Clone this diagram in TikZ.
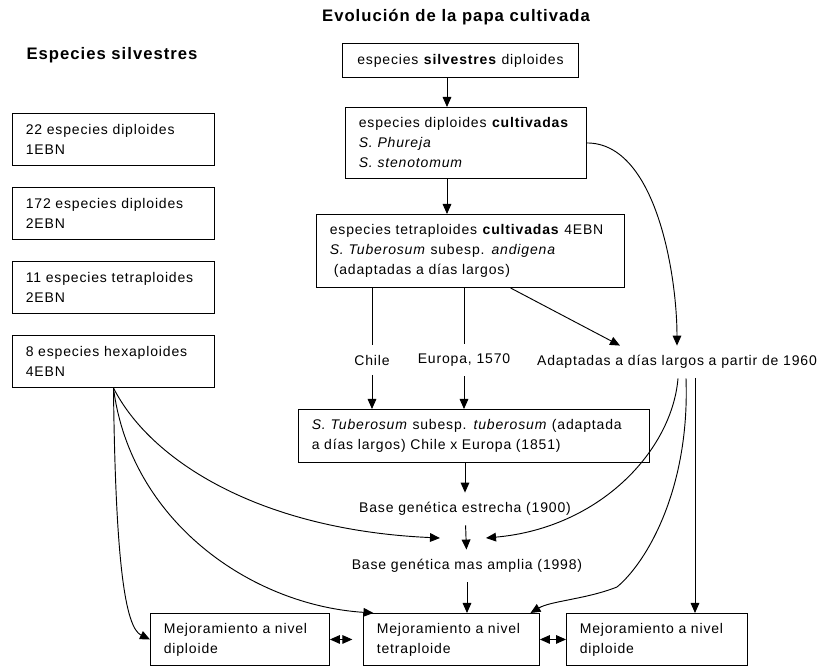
\documentclass[tikz,border=0pt]{standalone}
\usepackage{fontspec}
\setmainfont{Liberation Sans}[LetterSpace=6]
\usetikzlibrary{arrows.meta}
\tikzset{
  box/.style={draw, anchor=north west, align=left, inner xsep=10pt, inner ysep=2pt},
  lbl/.style={inner xsep=2pt, inner ysep=7pt},
  head/.style={font=\fontsize{12.5pt}{14pt}\selectfont\bfseries}
}
\begin{document}
\begin{tikzpicture}[x=0.75pt,y=-0.75pt,line width=0.7pt,
    >={Triangle[length=7.5pt,width=6.5pt]},
    font=\fontsize{10.5pt}{15pt}\selectfont]
  \path[use as bounding box,fill=white] (0,0) rectangle (826,666);
  \draw
    (456,17) node[head] (title){Evolución de la papa cultivada}
    (112,55) node[head] (wild){Especies silvestres}
    (342,43) node[box,align=center,text width=157pt,minimum height=25.5pt] (top1){especies \textbf{silvestres} diploides}
    (345,107) node[box,text width=160.75pt,minimum height=53.25pt] (top2){especies diploides \textbf{cultivadas}\\\textit{S. Phureja}\\\textit{S. stenotomum}}
    (316,214) node[box,text width=211pt,minimum height=54.75pt] (top3){especies tetraploides \textbf{cultivadas} 4EBN\\\textit{S. Tuberosum} subesp. \textit{andigena}\\\hspace{3pt}(adaptadas a días largos)}
    (12,113) node[box,text width=131.5pt,minimum height=39pt] (w1){22 especies diploides\\1EBN}
    (12,187) node[box,text width=131.5pt,minimum height=39pt] (w2){172 especies diploides\\2EBN}
    (12,261) node[box,text width=131.5pt,minimum height=39pt] (w3){11 especies tetraploides\\2EBN}
    (12,335) node[box,text width=131.5pt,minimum height=39pt] (hex){8 especies hexaploides\\4EBN}
    (372,360) node[lbl] (chile){Chile}
    (464,360) node[lbl] (europa){Europa, 1570}
    (677,362) node[lbl] (adapt){Adaptadas a días largos a partir de 1960}
    (298,409) node[box,text width=243.25pt,minimum height=39.75pt] (tub){\textit{S. Tuberosum} subesp. \textit{tuberosum} (adaptada\\a días largos) Chile x Europa (1851)}
    (465,509) node[lbl] (est){Base genética estrecha (1900)}
    (467,566) node[lbl] (amp){Base genética mas amplia (1998)}
    (150,613) node[box,text width=114.25pt,minimum height=39pt] (ld){Mejoramiento a nivel\\diploide}
    (363,613) node[box,text width=112pt,minimum height=39pt] (tetra){Mejoramiento a nivel\\tetraploide}
    (566,613) node[box,text width=115.75pt,minimum height=39pt] (rd){Mejoramiento a nivel\\diploide};
  \coordinate (ax) at (447,0);
  \coordinate (ml) at (440,538);
  \coordinate (mr) at (486,538);
  \coordinate (bend) at (617,587);
  \coordinate (vx) at (695,378);
  \begin{scope}[->]
    \draw (top1.south -| ax) to (top2.north -| ax);
    \draw (top2.south -| ax) to (top3.north -| ax);
    \draw[-] (top3.south -| chile) to (chile);
    \draw[-] (top3.south -| europa) to (europa);
    \draw (chile) to (tub.north -| chile);
    \draw (europa) to (tub.north -| europa);
    \draw ([xshift=30pt]top3.south) to ([xshift=-42.75pt]adapt.north);
    \draw (top2.east) to[out=0,in=90,looseness=0.8] (adapt.north);
    \draw ([xshift=0.75pt]adapt.south) .. controls +(-6,72) and +(114,-10) .. (mr);
    \draw ([xshift=6.75pt]adapt.south) .. controls +(4,110) and +(30,-25) .. (bend)
      .. controls +(-30,12) and +(20,-12) .. ([xshift=59.25pt]tetra.north);
    \draw (vx) to (vx |- rd.north);
    \draw (tub.south -| est) to (est);
    \draw (est) to (amp);
    \draw (amp) to (tetra.north -| amp);
    \draw (hex.south) .. controls +(2,173) and +(-25,-12) .. (ld.west);
    \draw (hex.south) .. controls +(17,133) and +(-123,-8) .. ([xshift=-58.5pt]tetra.north);
    \draw (hex.south) .. controls +(37,73) and +(-180,-8) .. (ml);
    \draw[<->,shorten >=8pt] (ld) to (tetra);
    \draw[<->] (tetra) to (rd);
  \end{scope}
\end{tikzpicture}
\end{document}
